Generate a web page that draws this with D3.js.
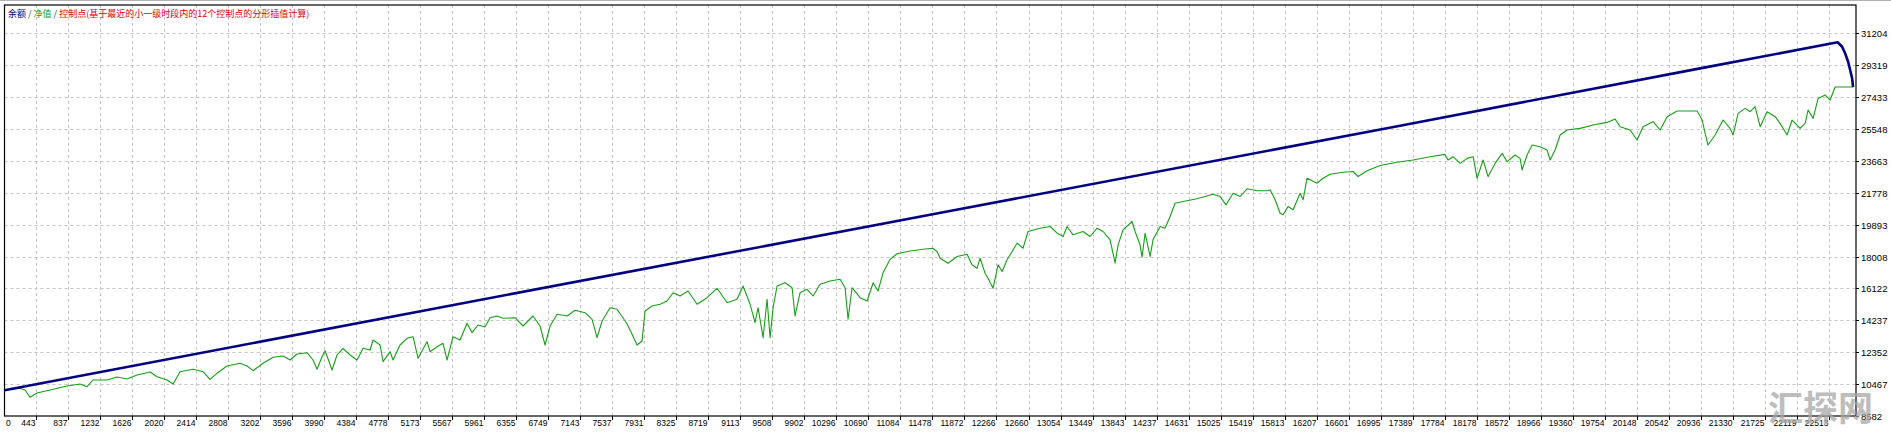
<!DOCTYPE html>
<html><head><meta charset="utf-8">
<script src="https://cdn.jsdelivr.net/npm/d3@7"></script>
<style>html,body{margin:0;padding:0;background:#fff;overflow:hidden}</style>
</head><body>
<svg id="c" width="1891" height="433"></svg>
<script>
// ---- data ----
const xTickLabels = [443,837,1232,1626,2020,2414,2808,3202,3596,3990,4384,4778,5173,5567,5961,6355,6749,7143,7537,7931,8325,8719,9113,9508,9902,10296,10690,11084,11478,11872,12266,12660,13054,13449,13843,14237,14631,15025,15419,15813,16207,16601,16995,17389,17784,18178,18572,18966,19360,19754,20148,20542,20936,21330,21725,22119,22513];
const yTickLabels = [8582,10467,12352,14237,16122,18008,19893,21778,23663,25548,27433,29319,31204];
const xDomain = [55, 22846];
const yDomain = [8582, 32873];
const legendParts = [["余额","balance"],[" / ","sep"],["净值","equity"],[" / ","sep"],["控制点(基于最近的小一级时段内的12个控制点的分形插值计算)","ctrl"]];
const watermark = "汇探网";

const balanceTrades = [55, 5663, 11448, 17234, 20927, 22620, 22675, 22712, 22749, 22774, 22798, 22810];
const balanceValues = [10100, 15219, 20473, 25740, 29126, 30670, 30408, 30018, 29522, 29031, 28540, 28026];

const equity = [
[55,10100],[246,10219],[308,10119],[369,9688],[455,9942],[616,10119],[825,10355],[985,10474],[1071,10314],[1145,10710],
[1317,10710],[1440,10887],[1563,10769],[1686,11005],[1847,11183],[1933,10905],[2056,10710],[2130,10474],[2216,11201],[2376,11342],
[2499,11201],[2585,10751],[2671,11106],[2794,11537],[2954,11697],[3041,11537],[3114,11260],[3238,11697],[3361,12052],[3484,12128],
[3570,11892],[3656,12247],[3779,12323],[3853,11892],[3902,11342],[3964,12087],[4001,12442],[4087,11301],[4148,12187],[4222,12583],
[4309,12187],[4395,11892],[4469,12583],[4555,12483],[4592,13074],[4678,12778],[4715,11792],[4801,12383],[4838,11892],[4924,12778],
[5010,13174],[5084,13269],[5146,11992],[5256,12974],[5293,12383],[5379,12678],[5453,12879],[5503,11892],[5576,13269],[5663,13074],
[5749,14061],[5810,13505],[5884,13960],[5970,13842],[6032,14392],[6118,14492],[6192,14356],[6340,14392],[6438,13901],[6561,14492],
[6647,13901],[6709,12778],[6771,13901],[6857,14593],[6980,14492],[7078,14829],[7201,14687],[7288,14297],[7349,13210],[7411,14197],
[7509,14983],[7595,14888],[7718,14037],[7780,13411],[7841,12778],[7903,13015],[7940,14788],[8026,15083],[8125,15184],[8211,15379],
[8285,15869],[8371,15674],[8469,15970],[8580,15184],[8703,15574],[8826,16129],[8949,15278],[9072,15479],[9146,16265],[9233,15184],
[9294,14096],[9331,14983],[9393,13210],[9442,15479],[9479,13210],[9516,14983],[9565,16265],[9663,16460],[9750,16165],[9786,14492],
[9848,15869],[9934,16070],[10008,15674],[10094,16366],[10217,16561],[10340,16661],[10402,16165],[10439,14297],[10488,16165],[10587,15574],
[10673,15379],[10747,16460],[10808,15970],[10870,17051],[10956,17843],[11042,18174],[11202,18334],[11362,18434],[11485,18493],[11534,18304],
[11571,17908],[11670,17613],[11781,18009],[11904,18145],[11965,17518],[12027,17317],[12064,17908],[12125,17022],[12162,16726],[12224,16135],
[12285,17518],[12335,17122],[12396,17814],[12458,18304],[12519,18795],[12593,18499],[12655,19486],[12802,19681],[12926,19782],[13012,19386],
[13086,19191],[13135,19782],[13209,19291],[13332,19486],[13418,19191],[13504,19681],[13578,19486],[13664,18996],[13726,17613],[13763,18700],
[13824,19587],[13935,20077],[13972,19486],[14033,18700],[14058,17967],[14095,19386],[14157,18009],[14193,18996],[14280,19782],[14341,19681],
[14403,20373],[14464,21159],[14563,21259],[14735,21419],[14932,21691],[15018,21555],[15092,21064],[15178,21750],[15264,21555],[15351,22010],
[15474,21892],[15597,21892],[15634,21951],[15695,21360],[15757,20568],[15794,20473],[15855,20964],[15917,20769],[16003,21750],[16040,21360],
[16089,22636],[16212,22341],[16286,22636],[16372,22873],[16532,22991],[16655,23032],[16717,22737],[16828,23074],[16988,23387],[17197,23582],
[17394,23712],[17603,23907],[17788,24043],[17825,23712],[17886,23907],[17973,23511],[18059,23807],[18133,23907],[18182,22625],[18256,23712],
[18317,22725],[18403,23511],[18490,24102],[18551,23612],[18650,24007],[18711,23807],[18736,23121],[18797,24007],[18859,24598],[18957,24498],
[19043,24303],[19081,23712],[19142,24303],[19204,25189],[19290,25485],[19450,25580],[19610,25780],[19782,25934],[19881,26135],[19942,25680],
[20065,25485],[20151,24894],[20225,25680],[20348,25976],[20435,25485],[20521,26271],[20644,26608],[20767,26608],[20890,26608],[20952,26076],
[20989,25284],[21025,24598],[21112,25189],[21210,26076],[21296,25580],[21333,25189],[21395,26466],[21481,26762],[21543,26567],[21604,26862],
[21666,25680],[21752,26567],[21850,26271],[21912,25875],[21998,25189],[22060,26076],[22158,25580],[22220,25875],[22256,26667],[22318,26171],
[22380,27353],[22466,27553],[22527,27258],[22589,28026],[22810,28026]
];

// ---- drawing ----
const svg = d3.select("#c");
const L = 4.5, R = 1856, T = 5, B = 416;
const x = d3.scaleLinear().domain(xDomain).range([L, R]);
const y = d3.scaleLinear().domain(yDomain).range([B, T]);
const colors = {balance:"#000080", sep:"#404040", equity:"#15a015", ctrl:"#e00000"};

svg.append("rect").attr("width",1891).attr("height",433).attr("fill","#fff");
svg.append("line").attr("x1",0).attr("x2",1891).attr("y1",0.5).attr("y2",0.5).attr("stroke","#b0b0b0");

const grid = svg.append("g").attr("stroke","#c4c4c4").attr("stroke-dasharray","3,3").attr("stroke-width",1);
xTickLabels.forEach(v => {
  const px = Math.round(x(v)) + 0.5;
  grid.append("line").attr("x1",px).attr("x2",px).attr("y1",T).attr("y2",B);
});
yTickLabels.slice(1).forEach(v => {
  const py = Math.round(y(v)) + 0.5;
  grid.append("line").attr("x1",L).attr("x2",R).attr("y1",py).attr("y2",py);
});

// frame
svg.append("rect").attr("x",L).attr("y",T).attr("width",R-L).attr("height",B-T)
  .attr("fill","none").attr("stroke","#000").attr("stroke-width",1.2);

// x axis labels
const xl = svg.append("g").attr("font-family","'Liberation Sans',Arial,sans-serif").attr("font-size","8.5px").attr("fill","#000");
xl.append("text").attr("x",6).attr("y",426).text("0");
xTickLabels.forEach(v => {
  const px = Math.round(x(v)) + 0.5;
  xl.append("text").attr("x",px-1).attr("y",426).attr("text-anchor","end").text(v);
  svg.append("line").attr("x1",px).attr("x2",px).attr("y1",B).attr("y2",B+4).attr("stroke","#000");
});
// y axis labels
const yl = svg.append("g").attr("font-family","'Liberation Sans',Arial,sans-serif").attr("font-size","9.5px").attr("fill","#000");
yTickLabels.forEach(v => {
  const py = Math.round(y(v)) + 0.5;
  yl.append("text").attr("x",1861).attr("y",py+3.4).text(v);
  svg.append("line").attr("x1",R).attr("x2",R+3).attr("y1",py).attr("y2",py).attr("stroke","#000");
});

// equity line
svg.append("path").datum(equity)
  .attr("d", d3.line().x(d=>x(d[0])).y(d=>y(d[1])))
  .attr("fill","none").attr("stroke",colors.equity).attr("stroke-width",1.1).attr("stroke-linejoin","round");

// balance line
const bal = balanceTrades.map((t,i)=>[t,balanceValues[i]]);
svg.append("path").datum(bal)
  .attr("d", d3.line().x(d=>x(d[0])).y(d=>y(d[1])))
  .attr("fill","none").attr("stroke",colors.balance).attr("stroke-width",2.6).attr("stroke-linejoin","round");

// legend
const lg = svg.append("text").attr("x",8).attr("y",16.5)
  .attr("font-family","'Noto Sans CJK SC','Liberation Sans',sans-serif").attr("font-size","9px");
legendParts.forEach(p => lg.append("tspan").attr("fill",colors[p[1]]).attr("xml:space","preserve").text(p[0]));

// watermark
svg.append("text").attr("x",1768).attr("y",421).attr("font-family","'Noto Sans CJK SC',sans-serif")
  .attr("font-size","35px").attr("font-weight","bold").attr("fill","#a8a8a8").attr("opacity",0.75).text(watermark);
</script>
</body></html>
